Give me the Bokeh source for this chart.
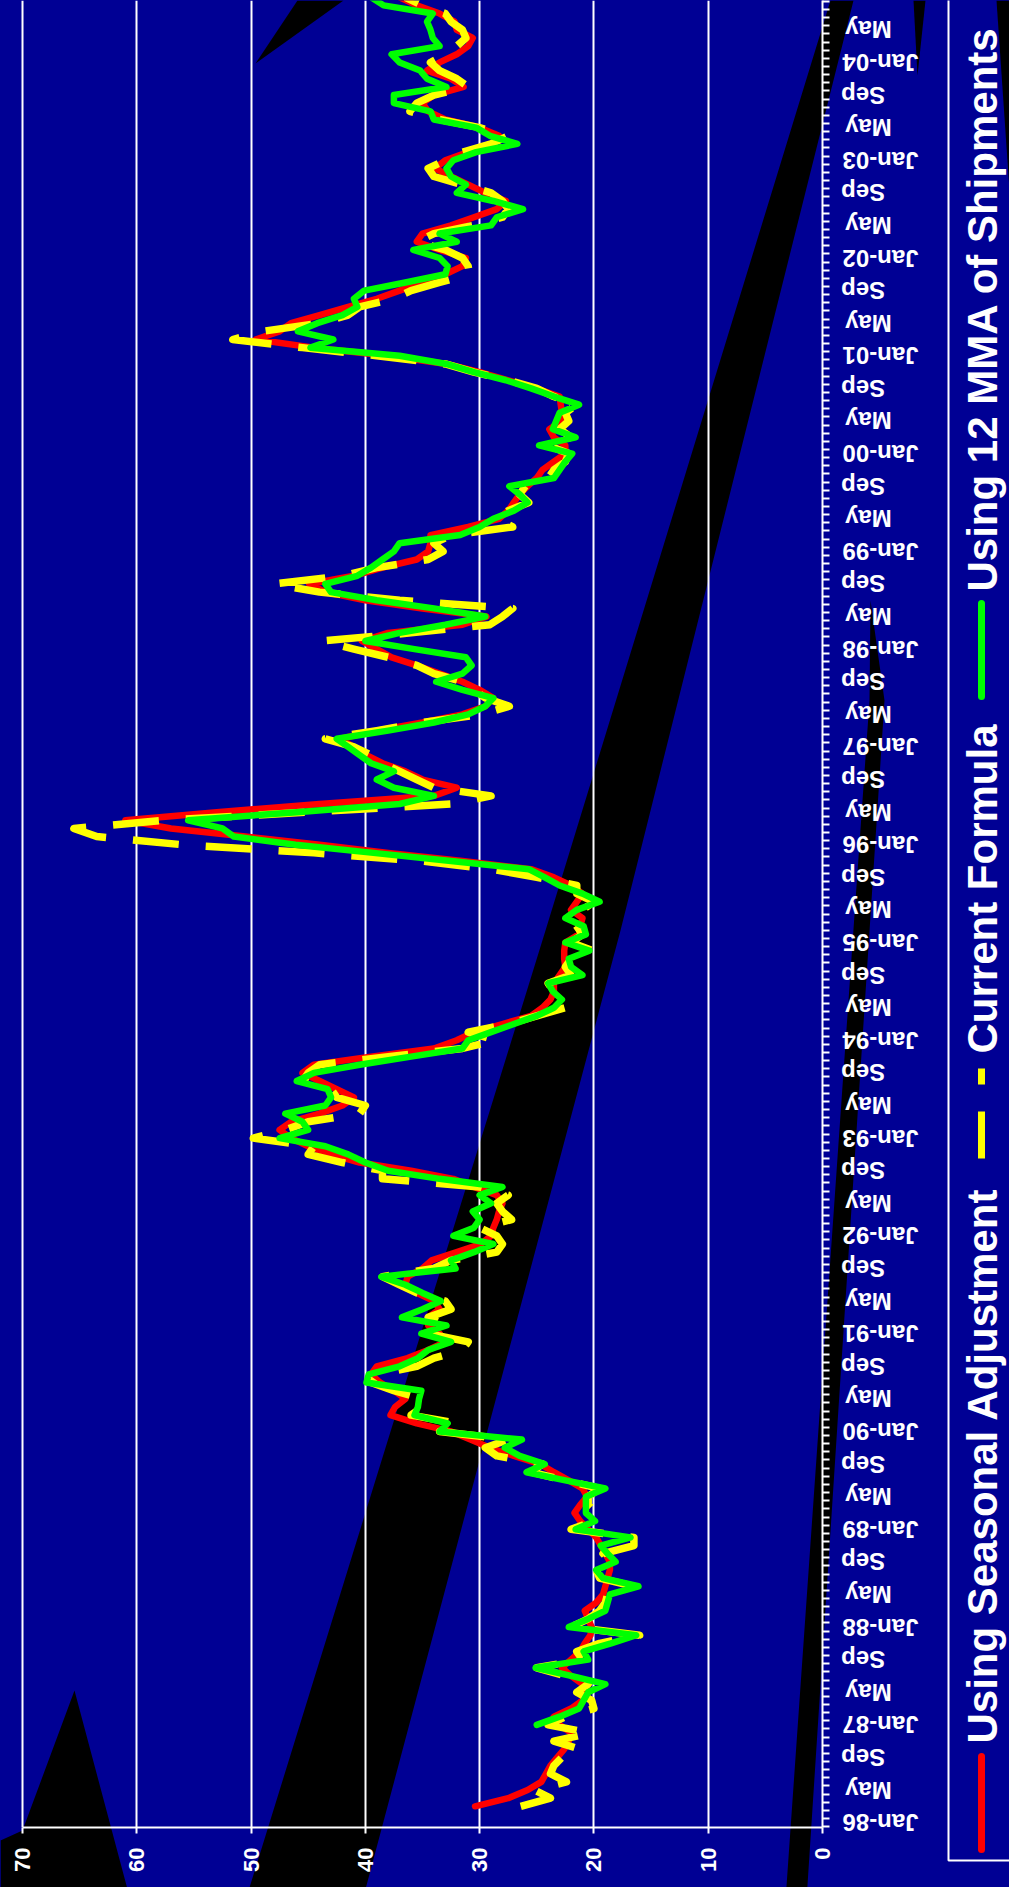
import math
from bokeh.plotting import figure
from bokeh.models import Range1d, FixedTicker
from bokeh.core.properties import value
from bokeh.embed import file_html
from bokeh.resources import INLINE

# ---------------- data (monthly, months counted from Jan-1986) ----------------
SERIES_NAMES = ["Using Seasonal Adjustment", "Current Formula", "Using 12 MMA of Shipments"]
SEASONAL_START = (1986, 3)   # first month of seasonal-adjustment & current-formula series
MMA_START = (1987, 1)        # first month of the 12 MMA series

seasonal_adj = [
    30.4, 27.5, 25.8, 24.6, 24.2, 23.8, 23.2, 22.6, 22.2, 22.0,
    23.0, 23.5, 22.0, 21.0, 20.5, 21.0, 22.0, 22.8, 22.0, 21.2, 20.8, 20.3,
    20.2, 20.5, 20.8, 19.8, 19.2, 19.0, 18.8, 18.6, 18.6, 19.0, 19.4, 19.8,
    20.5, 21.2, 21.7, 21.2, 20.6, 21.0, 22.2, 23.5, 24.7, 27.0, 29.1, 30.8,
    32.5, 35.5, 37.8, 37.4, 36.5, 37.5, 38.7, 39.5, 39.0, 36.3, 34.5, 33.0,
    33.5, 34.5, 34.5, 33.5, 34.0, 35.5, 36.5, 36.3, 35.0, 34.2, 32.0, 29.9,
    29.0, 28.8, 28.5, 28.3, 28.0, 28.5, 30.5, 32.3, 36.0, 40.5, 43.0, 45.0,
    46.5, 47.5, 46.5, 44.0, 42.0, 41.0, 42.5, 44.0, 45.5, 44.5, 39.5, 34.0,
    32.0, 30.5, 28.0, 25.5, 24.5, 23.8, 23.5, 23.5, 23.0, 22.5, 22.6, 22.6,
    22.5, 21.3, 21.2, 21.0, 22.0, 21.5, 21.0, 22.0, 23.5, 25.5, 31.5, 38.0,
    44.0, 50.5, 57.0, 61.0, 53.0, 44.0, 34.0, 32.0, 35.0, 36.5, 38.5, 39.9,
    41.0, 42.2, 39.0, 35.0, 31.5, 29.5, 28.8, 30.0, 31.5, 33.5, 35.5, 37.7,
    39.0, 40.3, 38.0, 31.5, 29.4, 35.0, 40.0, 43.5, 44.9, 41.0, 38.5, 35.5,
    34.5, 34.3, 34.3, 31.0, 28.3, 27.5, 27.0, 26.5, 25.8, 25.0, 24.5, 23.5,
    22.5, 22.5, 23.5, 23.9, 22.8, 22.8, 22.9, 23.0, 25.1, 27.5, 30.0, 32.9,
    38.0, 44.5, 49.6, 47.5, 46.5, 44.0, 41.5, 39.0, 37.0, 35.0, 33.0, 31.5,
    31.2, 33.5, 35.5, 35.0, 32.5, 30.5, 28.5, 27.7, 29.5, 31.0, 32.5, 33.9,
    33.0, 31.0, 29.0, 28.3, 30.0, 33.0, 34.5, 35.0, 34.0, 31.4, 32.5, 34.6,
    33.5, 32.0, 31.0, 30.6, 32.0, 32.2, 33.5, 35.5, 37.0,
]

current_formula = [
    26.4, 23.8, 25.2, 22.4, 23.8, 23.5, 22.8, 21.2, 23.5, 20.3,
    24.0, 22.5, 20.0, 20.2, 21.5, 20.5, 22.5, 25.0, 21.0, 21.5, 19.5, 16.0,
    22.0, 20.5, 19.5, 19.0, 18.8, 16.5, 19.5, 19.8, 18.5, 19.2, 16.5, 16.5,
    22.0, 20.0, 19.8, 20.5, 20.5, 19.5, 22.5, 25.5, 24.5, 28.5, 29.5, 27.5,
    33.5, 32.0, 36.0, 35.0, 35.0, 37.5, 39.5, 39.0, 35.5, 34.0, 31.5, 31.0,
    34.5, 33.0, 34.5, 32.5, 33.0, 35.5, 37.0, 38.5, 34.0, 32.5, 28.5, 28.0,
    28.5, 30.0, 27.2, 28.0, 28.5, 27.5, 30.0, 38.5, 38.5, 42.0, 45.0, 44.5,
    49.8, 47.0, 45.0, 40.5, 40.0, 42.5, 43.0, 45.5, 45.0, 44.0, 38.0, 31.5,
    28.5, 31.0, 27.5, 25.0, 22.5, 23.0, 23.5, 24.0, 22.0, 22.5, 22.0, 20.1,
    22.0, 21.0, 21.5, 22.0, 21.0, 20.0, 21.5, 21.5, 25.0, 29.0, 35.0, 44.5,
    56.0, 63.5, 65.5, 57.5, 45.0, 32.5, 29.0, 34.0, 35.5, 37.0, 38.5, 39.5,
    41.0, 43.5, 39.0, 35.0, 29.8, 27.4, 29.5, 30.5, 31.5, 34.0, 35.5, 38.0,
    41.0, 43.8, 36.0, 29.1, 28.0, 27.1, 37.0, 44.0, 48.0, 42.0, 39.0, 34.5,
    33.2, 34.0, 32.5, 27.1, 28.5, 27.5, 25.7, 26.5, 26.0, 24.0, 23.5, 22.5,
    22.2, 24.0, 22.0, 23.0, 22.2, 22.5, 21.5, 23.5, 25.0, 27.5, 30.5, 33.0,
    39.0, 45.5, 51.6, 49.0, 44.0, 41.5, 40.5, 37.5, 36.0, 33.5, 30.9, 31.0,
    31.5, 33.0, 35.5, 34.0, 30.5, 28.0, 27.5, 28.0, 29.0, 31.5, 34.0, 34.5,
    33.0, 31.5, 29.0, 27.5, 30.0, 33.5, 36.1, 35.5, 34.0, 31.0, 32.0, 33.5,
    34.3, 33.0, 32.0, 31.2, 31.5, 32.5, 33.0, 35.0, 36.5,
]

mma_12 = [
    25.0, 23.0, 21.3, 20.9, 20.5, 19.0, 22.0, 25.1, 20.5, 20.9, 18.5, 16.3,
    22.2, 20.5, 19.0, 18.8, 18.6, 16.1, 19.2, 19.8, 18.1, 18.8, 19.4, 16.8,
    21.6, 19.9, 20.7, 20.7, 20.7, 19.0, 22.5, 25.9, 24.3, 26.5, 27.8, 26.3,
    33.5, 32.8, 35.7, 35.4, 35.3, 35.1, 39.9, 39.7, 37.0, 35.4, 34.5, 32.5,
    35.1, 32.9, 36.8, 35.0, 33.4, 35.0, 36.5, 38.6, 32.1, 32.5, 30.5, 28.8,
    32.3, 30.5, 30.0, 30.6, 29.0, 30.0, 28.0, 33.5, 38.0, 40.0, 41.5, 43.5,
    47.5, 45.0, 45.5, 47.0, 43.5, 43.0, 43.3, 46.0, 44.5, 40.5, 36.0, 31.5,
    31.0, 29.0, 27.0, 25.0, 23.5, 22.8, 23.6, 24.0, 21.0, 22.0, 22.2, 20.4,
    22.5, 20.7, 20.9, 22.5, 21.5, 19.5, 21.0, 23.0, 24.3, 25.7, 32.5, 39.3,
    46.1, 51.5, 52.5, 55.5, 46.0, 37.0, 34.0, 37.5, 39.0, 37.5, 39.5, 40.5,
    41.5, 42.5, 38.0, 34.0, 31.0, 29.5, 28.8, 31.5, 33.8, 31.5, 30.7, 31.2,
    35.7, 40.0, 37.0, 33.0, 29.5, 34.0, 39.0, 43.0, 43.5, 40.7, 39.5, 38.5,
    37.5, 37.0, 31.7, 30.0, 28.8, 27.0, 25.8, 26.5, 27.4, 23.5, 23.0, 22.5,
    21.9, 24.8, 21.6, 23.6, 23.3, 23.0, 21.3, 23.5, 25.5, 27.7, 30.5, 32.9,
    37.0, 44.8, 42.8, 45.9, 44.2, 42.0, 40.7, 41.0, 40.1, 36.5, 33.0, 32.8,
    33.5, 35.8, 32.0, 33.5, 29.0, 28.5, 26.2, 28.8, 32.0, 31.2, 32.5, 32.9,
    32.3, 30.3, 26.7, 29.1, 30.3, 34.0, 34.3, 37.5, 37.5, 32.9, 34.6, 35.2,
    37.0, 37.7, 33.5, 34.1, 34.3, 34.6, 34.1, 38.4, 39.5,
]

VALUE_TICKS = [0, 10, 20, 30, 40, 50, 60, 70]
FIRST_YEAR = 1986
LABEL_MONTHS = {0: "Jan", 4: "May", 8: "Sep"}
LAST_LABEL_MONTH = 220  # May-04


def month_index(year, month):
    return (year - FIRST_YEAR) * 12 + (month - 1)


def months_from(start, n):
    s = month_index(*start)
    return list(range(s, s + n))


# ---------------- styling / geometry ----------------
W, H = 1009, 1887
BG = "#000094"
FONT = "Liberation Sans"
NBSP = "\u00a0"
LABEL_PAD = {"Jan": 0, "May": 4, "Sep": 5}   # pads upside-down labels to one width
FRAME_W, FRAME_H = 822, 1827
X_MAX = 71.92           # value at the left edge of the plot frame
Y_MIN, Y_MAX = -0.6, 223.6

# ======== layer 1: slide background + legend (page-pixel coordinates) ========
bg = figure(width=W, height=H, x_range=Range1d(0, W), y_range=Range1d(0, H),
            toolbar_location=None, output_backend="svg",
            x_axis_type=None, y_axis_type=None, min_border=0)
bg.background_fill_color = BG
bg.border_fill_color = BG
bg.outline_line_color = None
bg.grid.visible = False

# decorative black bands of the slide template, outlines in page pixels (x, y-down)
BG_BANDS = [
    [(245, 1900), (545, 930), (830, 0), (853, 0), (620, 930), (362, 1900)],
    [(785, 1900), (806, 1900), (884, 700), (870, 600), (869, 700)],
    [(913, 0), (925, 0), (917, 75)],
    [(255, 63), (297, 0), (343, 0)],
    [(74, 1690), (130, 1900), (0, 1900), (0, 1840), (22, 1830)],
    [(996, 0), (1009, 0), (1009, 190)],
]
bg.patches([[X for X, Y in b] for b in BG_BANDS],
           [[H - Y for X, Y in b] for b in BG_BANDS],
           fill_color="black", line_color=None)

# legend box
LEG_BOX_X, LEG_BOX_BOTTOM = 948, 1860
bg.line([LEG_BOX_X, LEG_BOX_X, W + 10], [H + 10, H - LEG_BOX_BOTTOM, H - LEG_BOX_BOTTOM],
        line_color="white", line_width=2)

LEG_X_LINE = 981
LEG_X_TEXT = 982
legend_items = [
    # (name, color, dash, sample from y, sample to y, text start y) -- page pixels
    (SERIES_NAMES[0], "#FF0000", "solid", 1849, 1756, 1743),
    (SERIES_NAMES[1], "#FFFF00", "47 27", 1158, 1068, 1053),
    (SERIES_NAMES[2], "#00FF00", "solid", 696, 603, 591),
]
for name, col, dash, y0, y1, ty in legend_items:
    bg.line([LEG_X_LINE, LEG_X_LINE], [H - y0, H - y1], line_color=col, line_width=7,
            line_dash=dash, line_cap="round" if dash == "solid" else "butt")
    bg.text(x=[LEG_X_TEXT], y=[H - ty], text=[name], angle=math.pi / 2,
            text_align="left", text_baseline="middle",
            text_color="white", text_font=value(FONT), text_font_style="bold",
            text_font_size="42px")

# ======== layer 2: the chart itself (transparent, on top) ========
p = figure(width=W, height=H,
           x_range=Range1d(X_MAX, 0), y_range=Range1d(Y_MIN, Y_MAX),
           y_axis_location="right", x_axis_location="below",
           toolbar_location=None, output_backend="svg",
           min_border_left=0, min_border_top=0,
           min_border_right=W - FRAME_W, min_border_bottom=H - FRAME_H)
p.background_fill_color = None
p.border_fill_color = None
p.outline_line_color = None

# grid
p.xgrid.ticker = FixedTicker(ticks=VALUE_TICKS)
p.xgrid.grid_line_color = "white"
p.xgrid.grid_line_width = 2
p.ygrid.grid_line_color = None

# series
p.line(seasonal_adj, months_from(SEASONAL_START, len(seasonal_adj)),
       line_color="#FF0000", line_width=6.5, line_join="round", line_cap="round")
p.line(current_formula, months_from(SEASONAL_START, len(current_formula)),
       line_color="#FFFF00", line_width=7.5, line_dash="46 27", line_join="round")
p.line(mma_12, months_from(MMA_START, len(mma_12)),
       line_color="#00FF00", line_width=6.5, line_join="round", line_cap="round")

# value axis (bottom)
xa = p.xaxis[0]
xa.ticker = FixedTicker(ticks=VALUE_TICKS)
xa.bounds = (0, 70)
xa.axis_line_color = "white"
xa.axis_line_width = 2
xa.major_tick_line_color = "white"
xa.major_tick_line_width = 2
xa.major_tick_in = 0
xa.major_tick_out = 6
xa.minor_tick_line_color = None
xa.major_label_orientation = math.pi / 2
xa.major_label_standoff = 14
xa.major_label_text_color = "white"
xa.major_label_text_font = FONT
xa.major_label_text_font_style = "bold"
xa.major_label_text_font_size = "22px"

# date axis (right), labels upside-down as in the rotated original
label_ticks = list(range(0, LAST_LABEL_MONTH + 1, 4))
overrides = {}
for m in label_ticks:
    mon = LABEL_MONTHS[m % 12]
    yr = (FIRST_YEAR + m // 12) % 100
    txt = f"Jan-{yr:02d}" if mon == "Jan" else mon
    overrides[m] = NBSP * LABEL_PAD[mon] + txt
ya = p.yaxis[0]
ya.ticker = FixedTicker(ticks=label_ticks,
                        minor_ticks=[m - 0.5 for m in range(0, 226)])
ya.major_label_overrides = overrides
ya.axis_line_color = "white"
ya.axis_line_width = 2
ya.major_tick_line_color = None
ya.major_tick_in = 0
ya.major_tick_out = 7
ya.minor_tick_line_color = "white"
ya.minor_tick_line_width = 2
ya.minor_tick_in = 0
ya.minor_tick_out = 7
ya.major_label_orientation = math.pi
ya.major_label_standoff = 89
ya.major_label_text_color = "white"
ya.major_label_text_font = FONT
ya.major_label_text_font_style = "bold"
ya.major_label_text_font_size = "24px"

TEMPLATE_SRC = """{% extends base %}
{% block preamble %}<style>
html, body { margin: 0 !important; padding: 0 !important; background: #000094; overflow: hidden; }
.layer { position: absolute; left: 0; top: 0; }
.layer1 { z-index: 0; }
.layer2 { z-index: 1; }
</style>{% endblock %}
{% block contents %}{% from macros import embed %}
{% for doc in docs %}{{ embed(doc) if doc.elementid }}
{% for root in doc.roots %}<div class="layer layer{{ loop.index }}">{{ embed(root) }}</div>
{% endfor %}{% endfor %}{% endblock %}
"""

try:
    from jinja2 import Template
    html = file_html([bg, p], INLINE, template=Template(TEMPLATE_SRC))
    if "layer2" not in html:
        raise RuntimeError("template not applied")
except Exception:
    p.background_fill_color = BG
    p.border_fill_color = BG
    html = file_html(p, INLINE)

open("out.html", "w").write(html)
